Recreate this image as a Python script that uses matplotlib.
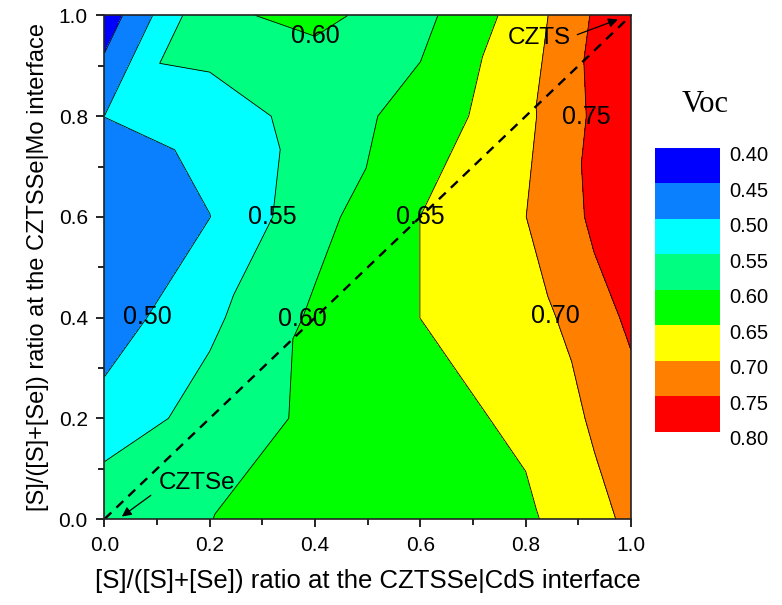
import numpy as np
import matplotlib
matplotlib.use("Agg")
import matplotlib.pyplot as plt
import matplotlib.tri as mtri
from matplotlib.colors import ListedColormap, BoundaryNorm
from matplotlib.transforms import ScaledTranslation

plt.rcParams['font.family'] = ['Liberation Sans', 'DejaVu Sans']

# ---- data ----
s_cds = [0.0, 0.2, 0.4, 0.6, 0.8, 1.0]          # x: [S]/([S]+[Se]) at CZTSSe|CdS
s_mo = [0.0, 0.2, 0.4, 0.6, 0.8, 1.0]           # y: [S]/([S]+[Se]) at CZTSSe|Mo
voc_y00 = [0.591, 0.5995, 0.615, 0.630, 0.641, 0.710]
voc_y02 = [0.519, 0.570, 0.610, 0.631, 0.660, 0.731]
voc_y04 = [0.473, 0.540, 0.608, 0.6502, 0.676, 0.759]
voc_y06 = [0.470, 0.4995, 0.584, 0.6502, 0.6995, 0.790]
voc_y08 = [0.5003, 0.515, 0.575, 0.617, 0.689, 0.795]
voc_y10 = [0.420, 0.595, 0.6065, 0.5855, 0.673, 0.7995]
levels = [0.40, 0.45, 0.50, 0.55, 0.60, 0.65, 0.70, 0.75, 0.80]
band_colors = ['#0000FF', '#0A80FF', '#00FFFF', '#00FF80', '#00FF00',
               '#FFFF00', '#FF8000', '#FF0000']
diag_x = [0.0, 1.0]
diag_y = [0.0, 1.0]
# grid cells (x index, y index) split along the other diagonal
backslash_cells = {(1, 4), (3, 1), (3, 0), (4, 1)}

Z = np.array([voc_y00, voc_y02, voc_y04, voc_y06, voc_y08, voc_y10])
X, Y = np.meshgrid(s_cds, s_mo)
nx, ny = len(s_cds), len(s_mo)
tris = []
for j in range(ny - 1):
    for i in range(nx - 1):
        a = j * nx + i
        b = a + 1
        c = a + nx + 1
        d = a + nx
        if (i, j) in backslash_cells:
            tris.append([a, b, d])
            tris.append([b, c, d])
        else:
            tris.append([a, b, c])
            tris.append([a, c, d])
tri = mtri.Triangulation(X.ravel(), Y.ravel(), np.array(tris))

cmap = ListedColormap(band_colors)
norm = BoundaryNorm(levels, cmap.N)

fig = plt.figure(figsize=(7.82, 6.05), dpi=100)
ax = fig.add_axes([0.1336, 0.1421, 0.6733, 0.8323])

cf = ax.tricontourf(tri, Z.ravel(), levels=levels, cmap=cmap, norm=norm)
cs = ax.tricontour(tri, Z.ravel(), levels=levels, colors='black', linewidths=0.6)

label_pos = [(0.40, 0.95), (0.324, 0.60), (0.60, 0.60), (0.083, 0.40),
             (0.371, 0.40), (0.849, 0.40), (0.906, 0.80)]
lbls = ax.clabel(cs, levels=levels, manual=label_pos, inline=False,
                 fontsize=18, fmt='%.2f', colors='black')
for t in lbls:
    t.set_rotation(0)

ax.plot(diag_x, diag_y, color='black', lw=1.7, linestyle=(0, (4, 3)))

arrow = dict(arrowstyle='-|>', color='black', lw=0.9, mutation_scale=14,
             shrinkA=0, shrinkB=0)
ax.text(0.826, 0.955, 'CZTS', fontsize=17.5, ha='center', va='center')
ax.annotate('', xy=(0.975, 0.992), xytext=(0.898, 0.962), arrowprops=arrow)
ax.text(0.175, 0.071, 'CZTSe', fontsize=17.5, ha='center', va='center')
ax.annotate('', xy=(0.033, 0.005), xytext=(0.088, 0.047), arrowprops=arrow)

ax.set_xlim(0, 1)
ax.set_ylim(0, 1)
ax.set_xticks(np.arange(0, 1.01, 0.2))
ax.set_yticks(np.arange(0, 1.01, 0.2))
ax.set_xticks(np.arange(0.1, 1.0, 0.2), minor=True)
ax.set_yticks(np.arange(0.1, 1.0, 0.2), minor=True)
ax.xaxis.set_major_formatter(matplotlib.ticker.FormatStrFormatter('%.1f'))
ax.yaxis.set_major_formatter(matplotlib.ticker.FormatStrFormatter('%.1f'))
ax.tick_params(axis='both', which='major', direction='out', length=6, width=1.2,
               labelsize=15, pad=6, top=False, right=False)
ax.tick_params(axis='both', which='minor', direction='out', length=4, width=1.2,
               top=False, right=False)
for sp in ax.spines.values():
    sp.set_linewidth(1.2)
    sp.set_color('#222222')

ax.set_xlabel('[S]/([S]+[Se]) ratio at the CZTSSe|CdS interface', fontsize=18.5, labelpad=10)
ax.set_ylabel('[S]/([S]+[Se]) ratio at the CZTSSe|Mo interface', fontsize=17)
ax.yaxis.set_label_coords(-0.105, 0.5)

cax = fig.add_axes([0.8376, 0.2860, 0.0831, 0.4694])
cb = fig.colorbar(cf, cax=cax, ticks=levels)
cb.outline.set_visible(False)
cax.invert_yaxis()
cax.set_yticklabels(['%.2f' % v for v in levels])
cax.tick_params(length=0, labelsize=14.5, pad=7)
off = ScaledTranslation(0, -6 / 100, fig.dpi_scale_trans)
for t in cax.get_yticklabels():
    t.set_transform(t.get_transform() + off)
fig.text(0.9015, 0.828, 'Voc', fontsize=22, family='Liberation Serif',
         ha='center', va='center')

fig.savefig('out.png', dpi=100)
